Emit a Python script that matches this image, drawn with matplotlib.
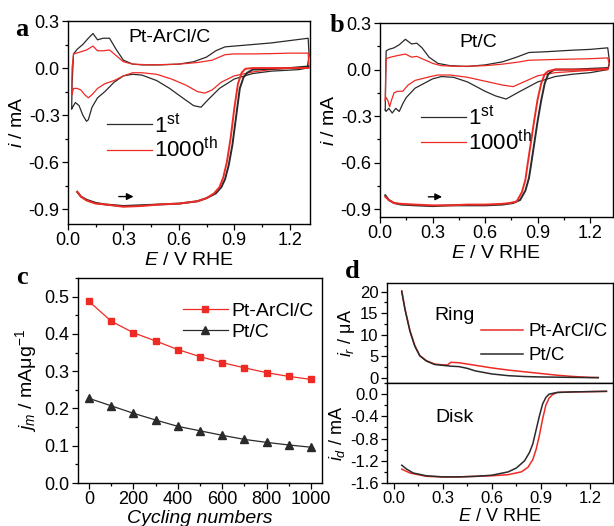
import matplotlib
matplotlib.use("Agg")
import matplotlib.pyplot as plt
from matplotlib.ticker import MultipleLocator

plt.rcParams['font.family'] = ['Liberation Sans', 'DejaVu Sans']
plt.rcParams['mathtext.fontset'] = 'custom'
plt.rcParams['mathtext.rm'] = 'Liberation Sans'
plt.rcParams['mathtext.it'] = 'Liberation Sans:italic'
plt.rcParams['axes.linewidth'] = 1.0

RED = '#ee2a24'
BLK = '#2a2a2a'

# ---- panel a : Pt-ArCl/C CV + ORR ----
a_cv1_E = [0.02, 0.022, 0.03, 0.05, 0.08, 0.11, 0.135, 0.16, 0.19, 0.225, 0.26, 0.3, 0.35, 0.4, 0.5,
           0.6, 0.68, 0.75, 0.8, 0.85, 0.9, 1.0, 1.1, 1.2, 1.3,
           1.305, 1.295, 1.25, 1.1, 1.0, 0.9, 0.82, 0.76, 0.72, 0.68, 0.62, 0.55, 0.48, 0.4, 0.35,
           0.3, 0.25, 0.2, 0.16, 0.13, 0.11, 0.1, 0.08, 0.06, 0.04, 0.02]
a_cv1_i = [-0.26, -0.1, 0.09, 0.12, 0.15, 0.19, 0.22, 0.18, 0.19, 0.19, 0.12, 0.05, 0.025, 0.02, 0.02,
           0.025, 0.04, 0.07, 0.11, 0.135, 0.14, 0.15, 0.16, 0.175, 0.19,
           0.08, 0.0, -0.01, -0.02, -0.035, -0.07, -0.13, -0.2, -0.25, -0.24, -0.19, -0.13, -0.08, -0.045, -0.04,
           -0.05, -0.09, -0.15, -0.19, -0.25, -0.33, -0.34, -0.3, -0.24, -0.22, -0.26]
a_cv1000_E = [0.02, 0.022, 0.03, 0.06, 0.1, 0.135, 0.16, 0.19, 0.225, 0.26, 0.3, 0.35, 0.45, 0.6, 0.7,
              0.78, 0.85, 0.9, 1.0, 1.1, 1.2, 1.3,
              1.305, 1.2, 1.1, 1.0, 0.9, 0.83, 0.78, 0.74, 0.7, 0.64, 0.56, 0.48, 0.4, 0.35, 0.3,
              0.25, 0.2, 0.16, 0.13, 0.11, 0.09, 0.07, 0.05, 0.03, 0.02]
a_cv1000_i = [-0.17, 0.0, 0.09, 0.1, 0.115, 0.14, 0.11, 0.11, 0.115, 0.08, 0.04, 0.025, 0.02, 0.025, 0.035,
              0.05, 0.085, 0.09, 0.09, 0.092, 0.095, 0.095,
              0.0, 0.0, -0.01, -0.025, -0.05, -0.09, -0.14, -0.16, -0.15, -0.11, -0.07, -0.04, -0.03, -0.03, -0.05,
              -0.08, -0.1, -0.13, -0.17, -0.19, -0.17, -0.14, -0.13, -0.13, -0.17]
a_lsv1_E = [0.05, 0.07, 0.1, 0.15, 0.2, 0.3, 0.4, 0.5, 0.6, 0.7, 0.75, 0.8, 0.83, 0.85, 0.87, 0.89,
            0.91, 0.93, 0.95, 0.97, 1.0, 1.1, 1.2, 1.3]
a_lsv1_i = [-0.79, -0.82, -0.84, -0.86, -0.87, -0.88, -0.875, -0.87, -0.865, -0.85, -0.83, -0.80, -0.76,
            -0.71, -0.62, -0.49, -0.31, -0.13, -0.06, -0.03, -0.01, -0.005, 0.0, 0.01]
a_lsv1000_E = [0.05, 0.07, 0.1, 0.15, 0.2, 0.3, 0.4, 0.5, 0.6, 0.7, 0.75, 0.79, 0.82, 0.84, 0.86, 0.88,
               0.90, 0.92, 0.94, 0.96, 1.0, 1.1, 1.2, 1.3]
a_lsv1000_i = [-0.79, -0.82, -0.845, -0.865, -0.87, -0.885, -0.88, -0.87, -0.865, -0.85, -0.83, -0.80,
               -0.76, -0.70, -0.60, -0.45, -0.26, -0.10, -0.03, -0.005, 0.0, 0.0, 0.0, 0.0]

# ---- panel b : Pt/C CV + ORR ----
b_cv1_E = [0.03, 0.032, 0.035, 0.05, 0.08, 0.11, 0.145, 0.18, 0.21, 0.24, 0.28, 0.33, 0.4, 0.5, 0.6,
           0.7, 0.78, 0.85, 0.95, 1.1, 1.2, 1.3,
           1.31, 1.3, 1.2, 1.1, 1.0, 0.9, 0.8, 0.72, 0.66, 0.6, 0.5, 0.42, 0.35, 0.3, 0.25, 0.2,
           0.15, 0.13, 0.11, 0.09, 0.07, 0.05, 0.035, 0.03]
b_cv1_i = [-0.26, -0.1, 0.12, 0.13, 0.14, 0.16, 0.195, 0.165, 0.17, 0.14, 0.08, 0.04, 0.025, 0.02, 0.03,
           0.05, 0.08, 0.11, 0.115, 0.125, 0.13, 0.14,
           0.05, 0.0, -0.02, -0.03, -0.045, -0.08, -0.14, -0.19, -0.17, -0.14, -0.08, -0.05, -0.045, -0.06,
           -0.09, -0.12, -0.18, -0.22, -0.27, -0.25, -0.28, -0.25, -0.27, -0.26]
b_cv1000_E = [0.03, 0.032, 0.035, 0.06, 0.1, 0.145, 0.18, 0.21, 0.24, 0.3, 0.35, 0.45, 0.6, 0.7, 0.8,
              0.85, 1.0, 1.2, 1.3,
              1.31, 1.3, 1.2, 1.0, 0.9, 0.82, 0.76, 0.7, 0.6, 0.5, 0.4, 0.33, 0.27, 0.2, 0.16, 0.13,
              0.1, 0.08, 0.065, 0.055, 0.045, 0.035, 0.03]
b_cv1000_i = [-0.2, -0.05, 0.07, 0.08, 0.09, 0.10, 0.08, 0.085, 0.07, 0.04, 0.025, 0.02, 0.025, 0.035, 0.05,
              0.06, 0.065, 0.07, 0.075,
              0.03, 0.0, -0.005, -0.02, -0.04, -0.08, -0.11, -0.1, -0.075, -0.05, -0.035, -0.035, -0.05,
              -0.07, -0.1, -0.14, -0.14, -0.15, -0.2, -0.24, -0.2, -0.18, -0.2]
b_lsv1_E = [0.03, 0.05, 0.08, 0.12, 0.2, 0.3, 0.4, 0.5, 0.6, 0.7, 0.76, 0.80, 0.83, 0.85, 0.86, 0.88,
            0.90, 0.92, 0.94, 0.96, 0.98, 1.0, 1.1, 1.2, 1.3]
b_lsv1_i = [-0.81, -0.84, -0.86, -0.87, -0.875, -0.88, -0.875, -0.875, -0.875, -0.87, -0.86, -0.84,
            -0.78, -0.70, -0.63, -0.48, -0.33, -0.20, -0.09, -0.03, -0.01, 0.0, 0.0, 0.005, 0.01]
b_lsv1000_E = [0.03, 0.05, 0.08, 0.12, 0.2, 0.3, 0.4, 0.5, 0.6, 0.7, 0.74, 0.78, 0.81, 0.83, 0.84, 0.86,
               0.88, 0.90, 0.92, 0.94, 0.96, 1.0, 1.1, 1.2, 1.3]
b_lsv1000_i = [-0.82, -0.84, -0.86, -0.865, -0.87, -0.875, -0.875, -0.87, -0.87, -0.865, -0.86, -0.85,
               -0.79, -0.71, -0.63, -0.48, -0.33, -0.19, -0.09, -0.03, -0.01, 0.0, 0.0, 0.0, 0.005]

# ---- panel c : mass activity vs cycles ----
cycles = [0, 100, 200, 300, 400, 500, 600, 700, 800, 900, 1000]
jm_arcl = [0.487, 0.434, 0.403, 0.381, 0.358, 0.339, 0.323, 0.309, 0.296, 0.286, 0.278]
jm_ptc = [0.227, 0.207, 0.187, 0.169, 0.152, 0.140, 0.128, 0.117, 0.109, 0.102, 0.096]

# ---- panel d : RRDE ring / disk ----
ring_E_arcl = [0.05, 0.07, 0.1, 0.13, 0.16, 0.2, 0.25, 0.3, 0.33, 0.35, 0.4, 0.5, 0.6, 0.7, 0.8, 0.9,
               1.0, 1.1, 1.2, 1.25]
ring_i_arcl = [20.2, 16.0, 11.0, 7.5, 5.2, 4.0, 3.2, 3.0, 3.0, 3.6, 3.5, 2.9, 2.3, 1.8, 1.4, 1.0,
               0.6, 0.3, 0.1, 0.05]
ring_E_ptc = [0.05, 0.07, 0.1, 0.13, 0.16, 0.2, 0.25, 0.3, 0.35, 0.4, 0.45, 0.5, 0.6, 0.7, 0.8, 0.9,
              1.0, 1.1, 1.2, 1.25]
ring_i_ptc = [20.0, 15.8, 10.8, 7.3, 5.1, 3.9, 3.1, 2.9, 2.7, 2.6, 2.2, 1.6, 0.9, 0.5, 0.3, 0.2,
              0.15, 0.1, 0.05, 0.05]
disk_E_arcl = [0.05, 0.1, 0.2, 0.3, 0.4, 0.5, 0.6, 0.7, 0.78, 0.82, 0.85, 0.87, 0.89, 0.91, 0.93,
               0.95, 0.97, 1.0, 1.1, 1.2, 1.3]
disk_i_arcl = [-1.35, -1.42, -1.48, -1.49, -1.49, -1.48, -1.47, -1.45, -1.40, -1.32, -1.18, -1.0,
               -0.75, -0.45, -0.2, -0.07, -0.01, 0.03, 0.04, 0.045, 0.05]
disk_E_ptc = [0.05, 0.08, 0.12, 0.2, 0.3, 0.4, 0.5, 0.6, 0.7, 0.75, 0.8, 0.83, 0.85, 0.87, 0.89, 0.91,
              0.93, 0.95, 1.0, 1.1, 1.2, 1.3]
disk_i_ptc = [-1.28, -1.35, -1.42, -1.47, -1.49, -1.49, -1.48, -1.46, -1.40, -1.33, -1.2, -1.05, -0.9,
              -0.65, -0.4, -0.18, -0.06, 0.0, 0.03, 0.04, 0.045, 0.05]

W, H = 614, 526
fig = plt.figure(figsize=(W / 100, H / 100), dpi=100)


def px_axes(l, t, r, b):
    return fig.add_axes([l / W, 1 - b / H, (r - l) / W, (b - t) / H])


def style(ax, fs=13):
    ax.tick_params(which='both', direction='out', top=False, right=False, labelsize=fs,
                   length=4, width=0.9, pad=2)
    ax.tick_params(which='minor', length=2.5)


def cv_panel(ax, cv1, cv1000, lsv1, lsv1000, ylim_low, xmax, title, title_y, leg_xy):
    ax.plot(*cv1, color=BLK, lw=0.9, label='1$^{\\mathrm{st}}$')
    ax.plot(*cv1000, color=RED, lw=0.9, label='1000$^{\\mathrm{th}}$')
    ax.plot(*lsv1, color=BLK, lw=1.4)
    ax.plot(*lsv1000, color=RED, lw=1.4)
    ax.set_xlim(0, xmax)
    ax.set_ylim(ylim_low, 0.3)
    ax.set_xticks([0.0, 0.3, 0.6, 0.9, 1.2])
    ax.set_xticklabels(['0.0', '0.3', '0.6', '0.9', '1.2'])
    ax.xaxis.set_minor_locator(MultipleLocator(0.15))
    ax.set_yticks([0.3, 0.0, -0.3, -0.6, -0.9])
    ax.set_yticklabels(['0.3', '0.0', '-0.3', '-0.6', '-0.9'])
    ax.yaxis.set_minor_locator(MultipleLocator(0.15))
    style(ax)
    ax.set_xlabel('$E$ / V RHE', fontsize=14, labelpad=2)
    ax.set_ylabel('$i$ / mA', fontsize=14, labelpad=2)
    ax.annotate('', xy=(0.37, -0.82), xytext=(0.26, -0.82),
                arrowprops=dict(arrowstyle='-|>', color='black', lw=1, mutation_scale=10))
    ax.text(0.42, title_y, title, transform=ax.transAxes, ha='center', va='center', fontsize=14)
    ax.legend(loc='upper left', bbox_to_anchor=leg_xy, frameon=False, fontsize=16,
              handlelength=2.0, handletextpad=0.1, labelspacing=0.0, borderpad=0)


ax_a = px_axes(68, 21, 310, 224)
cv_panel(ax_a, (a_cv1_E, a_cv1_i), (a_cv1000_E, a_cv1000_i), (a_lsv1_E, a_lsv1_i),
         (a_lsv1000_E, a_lsv1000_i), -0.995, 1.31, 'Pt-ArCl/C', 0.92, (0.116, 0.60))

ax_b = px_axes(380, 23, 613, 217)
cv_panel(ax_b, (b_cv1_E, b_cv1_i), (b_cv1000_E, b_cv1000_i), (b_lsv1_E, b_lsv1_i),
         (b_lsv1000_E, b_lsv1000_i), -0.95, 1.33, 'Pt/C', 0.90, (0.129, 0.63))

# panel c
ax_c = px_axes(78, 278, 322, 483)
ax_c.plot(cycles, jm_arcl, color=RED, lw=0.9, marker='s', ms=5, label='Pt-ArCl/C')
ax_c.plot(cycles, jm_ptc, color=BLK, lw=0.9, marker='^', ms=5.5, label='Pt/C')
ax_c.set_xlim(-50, 1050)
ax_c.set_ylim(0, 0.55)
ax_c.xaxis.set_major_locator(MultipleLocator(200))
ax_c.xaxis.set_minor_locator(MultipleLocator(100))
ax_c.set_yticks([0.0, 0.1, 0.2, 0.3, 0.4, 0.5])
ax_c.set_yticklabels(['0.0', '0.1', '0.2', '0.3', '0.4', '0.5'])
ax_c.yaxis.set_minor_locator(MultipleLocator(0.05))
style(ax_c)
ax_c.set_xlabel('Cycling numbers', fontsize=14, style='italic', labelpad=1)
ax_c.set_ylabel('$j_m$ / mA\u03bcg$^{-1}$', fontsize=14, labelpad=4)
ax_c.legend(loc='upper left', bbox_to_anchor=(0.39, 0.93), frameon=False, fontsize=14,
            handlelength=2.3, handletextpad=0.2, labelspacing=0.2, borderpad=0)

# panel d
ax_r = px_axes(387, 283, 613, 383)
ax_d = px_axes(387, 383, 613, 483)
ax_r.plot(ring_E_arcl, ring_i_arcl, color=RED, lw=1.1, label='Pt-ArCl/C')
ax_r.plot(ring_E_ptc, ring_i_ptc, color=BLK, lw=1.1, label='Pt/C')
ax_d.plot(disk_E_arcl, disk_i_arcl, color=RED, lw=1.1)
ax_d.plot(disk_E_ptc, disk_i_ptc, color=BLK, lw=1.1)
for ax in (ax_r, ax_d):
    ax.set_xlim(-0.04, 1.34)
    ax.xaxis.set_major_locator(MultipleLocator(0.3))
    ax.xaxis.set_minor_locator(MultipleLocator(0.15))
    style(ax, fs=12)
ax_r.set_ylim(-1.2, 22)
ax_r.set_yticks([0, 5, 10, 15, 20])
ax_r.yaxis.set_minor_locator(MultipleLocator(2.5))
ax_r.tick_params(labelbottom=False)
ax_d.set_ylim(-1.6, 0.2)
ax_d.set_yticks([0.0, -0.4, -0.8, -1.2, -1.6])
ax_d.set_yticklabels(['0.0', '-0.4', '-0.8', '-1.2', '-1.6'])
ax_d.yaxis.set_minor_locator(MultipleLocator(0.2))
ax_d.set_xticks([0.0, 0.3, 0.6, 0.9, 1.2])
ax_d.set_xticklabels(['0.0', '0.3', '0.6', '0.9', '1.2'])
ax_r.set_ylabel('$i_r$ / \u03bcA', fontsize=13, labelpad=2)
ax_d.set_ylabel('$i_d$ / mA', fontsize=13, labelpad=2)
ax_d.set_xlabel('$E$ / V RHE', fontsize=13, labelpad=1)
ax_r.text(0.3, 0.68, 'Ring', transform=ax_r.transAxes, ha='center', va='center', fontsize=14)
ax_d.text(0.3, 0.66, 'Disk', transform=ax_d.transAxes, ha='center', va='center', fontsize=14)
ax_r.legend(loc='upper left', bbox_to_anchor=(0.376, 0.69), frameon=False, fontsize=13.5,
            handlelength=2.2, handletextpad=0.3, labelspacing=0.35, borderpad=0)

# panel letters
for s, x, y in [('a', 22, 30), ('b', 337, 26), ('c', 22, 277), ('d', 352, 272)]:
    fig.text(x / W, 1 - y / H, s, fontsize=19, fontweight='bold', family='Liberation Serif',
             ha='center', va='center')

fig.savefig('out.png', dpi=100)
